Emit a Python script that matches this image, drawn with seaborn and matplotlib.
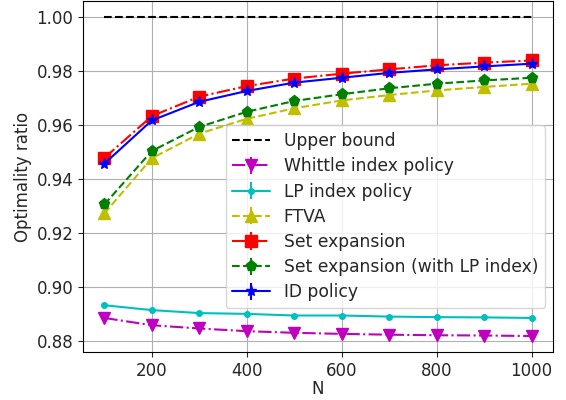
import numpy as np
import matplotlib
matplotlib.use("Agg")
import matplotlib.pyplot as plt
import seaborn as sns

# ─── Data ────────────────────────────────────────────────────────────────────
N = [100, 200, 300, 400, 500, 600, 700, 800, 900, 1000]
upper_bound = [1.0] * len(N)
whittle = [0.8886, 0.8859, 0.8847, 0.8837, 0.8831, 0.8827, 0.8824, 0.8822, 0.8821, 0.8819]
lp_index = [0.8933, 0.8915, 0.8904, 0.8901, 0.8895, 0.8895, 0.8891, 0.8889, 0.8888, 0.8886]
ftva = [0.9273, 0.9477, 0.9568, 0.9623, 0.9662, 0.9691, 0.9711, 0.9728, 0.9741, 0.9753]
set_exp = [0.9478, 0.9633, 0.9705, 0.9744, 0.9772, 0.9790, 0.9806, 0.9821, 0.9831, 0.9839]
set_exp_lp = [0.9306, 0.9504, 0.9593, 0.9649, 0.9689, 0.9714, 0.9736, 0.9753, 0.9765, 0.9775]
id_policy = [0.9457, 0.9617, 0.9686, 0.9726, 0.9757, 0.9775, 0.9793, 0.9806, 0.9817, 0.9827]
# error bars are too small to see in the picture
yerr = [0.0] * len(N)

sns.set_style("ticks", {"axes.grid": True, "grid.color": "#b0b0b0",
                        "axes.edgecolor": "black"})
plt.rcParams['font.family'] = ['DejaVu Sans']
plt.rcParams['font.size'] = 12

fig = plt.figure(figsize=(5.66, 4.0), dpi=100)
ax = fig.add_axes([0.1466, 0.12, 0.8304, 0.8775])

ax.plot(N, upper_bound, 'k--', lw=1.5, label='Upper bound')
series = [
    (whittle,    'm-.', 'v', 'Whittle index policy'),
    (lp_index,   'c-',  '.', 'LP index policy'),
    (ftva,       'y--', '^', 'FTVA'),
    (set_exp,    'r-.', 's', 'Set expansion'),
    (set_exp_lp, 'g--', 'p', 'Set expansion (with LP index)'),
    (id_policy,  'b-',  '*', 'ID policy'),
]
for vals, fmt, mk, lab in series:
    ax.errorbar(N, vals, yerr=yerr, fmt=fmt, marker=mk, markersize=8,
                lw=1.5, label=lab)

ax.set_xticks([200, 400, 600, 800, 1000])
ax.set_yticks([0.88, 0.90, 0.92, 0.94, 0.96, 0.98, 1.00])
ax.set_xlabel('N', labelpad=0)
ax.set_ylabel('Optimality ratio', labelpad=3)
ax.grid(True, color='#b0b0b0', lw=0.8)
ax.tick_params(direction='out', length=3.5, width=0.8, labelsize=12)
for s in ax.spines.values():
    s.set_linewidth(0.8)
ax.legend(loc='lower right', bbox_to_anchor=(0.983, 0.125), borderaxespad=0,
          fontsize=12.3, framealpha=0.8, edgecolor='#cccccc',
          handlelength=2.2, labelspacing=0.42)

plt.savefig('out.png', dpi=100, facecolor='white')
